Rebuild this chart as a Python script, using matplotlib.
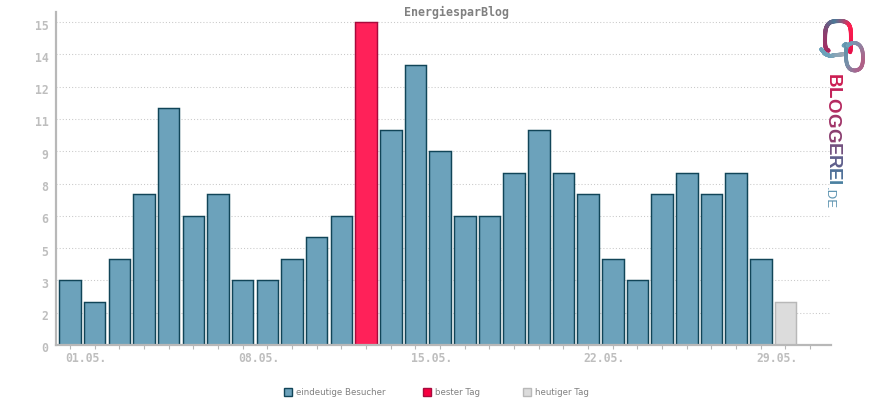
import numpy as np
import matplotlib
matplotlib.use("Agg")
import matplotlib.pyplot as plt
from matplotlib.patches import Patch
from matplotlib.collections import LineCollection
from matplotlib.colors import to_rgb
from matplotlib.transforms import ScaledTranslation

# ---------- data ----------
visitors = [3, 2, 4, 7, 11, 6, 7, 3, 3, 4, 5, 6, 15, 10, 13, 9, 6, 6, 8, 10, 8, 7, 4, 3, 7, 8, 7, 8, 4, 2]
best_day_index = 12
today_index = 29
slot_count = 31
y_ticks = [0, 1.5, 3, 4.5, 6, 7.5, 9, 10.5, 12, 13.5, 15]
y_tick_labels = ["0", "2", "3", "5", "6", "8", "9", "11", "12", "14", "15"]
x_label_index = [0, 7, 14, 21, 28]
x_label_text = ["01.05.", "08.05.", "15.05.", "22.05.", "29.05."]
title = "EnergiesparBlog"
legend_labels = ["eindeutige Besucher", "bester Tag", "heutiger Tag"]

# ---------- style ----------
W, H = 870, 400
BLUE, BLUE_E = "#6ca2bb", "#114558"
RED, RED_E, RED_L = "#ff2159", "#a80a3c", "#f70040"
GREY, GREY_E = "#dcdcdc", "#b8b8b8"
AX = "#b8b8b8"
TICK = "#bebebe"
MONO = "DejaVu Sans Mono"

fig = plt.figure(figsize=(W / 100, H / 100), dpi=100)
L, R, T, B = 56, 831, 12, 345
ax = fig.add_axes([L / W, 1 - B / H, (R - L) / W, (B - T) / H])
px_x = 24.67
ax.set_xlim(-(70 - L) / px_x, (R - 70) / px_x)
ax.set_ylim(0, (B - T) / 21.53)

idx = np.arange(len(visitors))
vals = np.array(visitors)
normal = (idx != best_day_index) & (idx != today_index)
bw = 0.875
elw = 1.05
ax.bar(idx[normal], vals[normal], width=bw, color=BLUE, edgecolor=BLUE_E, linewidth=elw, zorder=2)
ax.bar(idx[best_day_index], vals[best_day_index], width=bw, color=RED, edgecolor=RED_E, linewidth=elw, zorder=2)
ax.bar(idx[today_index], vals[today_index], width=bw, color=GREY, edgecolor=GREY_E, linewidth=elw, zorder=2)

for s in ("top", "right"):
    ax.spines[s].set_visible(False)
for s in ("left", "bottom"):
    ax.spines[s].set_color(AX)
    ax.spines[s].set_linewidth(1.6)
    ax.spines[s].set_zorder(3)

ax.set_axisbelow(True)
ax.yaxis.grid(True, color="#c9c9c9", linewidth=0.75, linestyle=(0, (1, 2)))
ax.set_yticks(y_ticks)
ax.set_yticklabels(y_tick_labels, family=MONO, fontweight="bold", fontsize=8.3, color=TICK)
ax.tick_params(axis="y", length=0, pad=5.5)
off_y = ScaledTranslation(0, -2.5 / 100, fig.dpi_scale_trans)
for t in ax.get_yticklabels():
    t.set_transform(t.get_transform() + off_y)

ax.set_xticks(np.arange(slot_count))
labels = [""] * slot_count
for i, s in zip(x_label_index, x_label_text):
    labels[i] = s
ax.set_xticklabels(labels, family=MONO, fontweight="bold", fontsize=8.3, color=TICK)
ax.tick_params(axis="x", length=3, width=0.8, color=AX, pad=2.2)
off_x = ScaledTranslation(16 / 100, 0, fig.dpi_scale_trans)
for t in ax.get_xticklabels():
    t.set_transform(t.get_transform() + off_x)

fig.text(457 / W, 1 - 12 / H, title, family=MONO, fontweight="bold", fontsize=8.4,
         color="#808080", ha="center", va="center")

handles = [Patch(facecolor=BLUE, edgecolor=BLUE_E, linewidth=1),
           Patch(facecolor=RED_L, edgecolor=RED_E, linewidth=1),
           Patch(facecolor=GREY, edgecolor=GREY_E, linewidth=1)]
for h, lab, px in zip(handles, legend_labels, [284, 423, 523]):
    fig.legend([h], [lab], loc="lower left", bbox_to_anchor=(px / W, 1 - 397 / H),
               frameon=False, fontsize=6.2, labelcolor="#808080", borderpad=0, borderaxespad=0,
               handlelength=0.95, handleheight=0.95, handletextpad=0.45)

# ---------- logo overlay in pixel coordinates ----------
ov = fig.add_axes([0, 0, 1, 1], facecolor="none")
ov.set_xlim(0, W)
ov.set_ylim(H, 0)
ov.axis("off")

def blend(c1, c2, t):
    a, b = np.array(to_rgb(c1)), np.array(to_rgb(c2))
    return tuple(a + (b - a) * t)

def ramp(stops, n):
    t = np.linspace(0, len(stops) - 1, n)
    out = []
    for v in t:
        i = min(int(v), len(stops) - 2)
        out.append(blend(stops[i], stops[i + 1], v - i))
    return out

def stroke(xs, ys, stops, lw):
    k = np.linspace(0, 1, len(xs))
    tt = np.linspace(0, 1, 160)
    x = np.interp(tt, k, xs)
    y = np.interp(tt, k, ys)
    ker = np.ones(15) / 15
    x2 = np.convolve(np.pad(x, 7, mode="edge"), ker, mode="valid")
    y2 = np.convolve(np.pad(y, 7, mode="edge"), ker, mode="valid")
    pts = np.column_stack([x2, y2])
    segs = np.stack([pts[:-1], pts[1:]], axis=1)
    ov.add_collection(LineCollection(segs, colors=ramp(stops, len(segs)), linewidths=lw, capstyle="round"))

# first bubble
stroke([829, 825, 825, 826, 830, 836, 844, 849, 851, 851, 850],
       [51, 48, 34, 27, 22, 21, 21, 24, 30, 46, 53],
       ["#b0245c", "#8a4070", "#4c7a98", "#ff1f50", "#e8104a"], 2.9)
stroke([821, 825, 830, 836, 846], [49, 54, 56, 55, 54],
       ["#6ca2bb", "#6ca2bb", "#a0a8b4"], 2.7)
# second bubble
stroke([843, 847, 846, 846, 849, 855, 860, 863, 863, 858, 851, 847],
       [46, 43, 50, 62, 69, 71, 69, 64, 50, 43, 43, 46],
       ["#6ca2bb", "#5f90a8", "#7a8fa8", "#a96690", "#b06085", "#8a8aa8", "#6ca2bb"], 2.7)

# wordmark, one real text per letter so the colour can run down the word
letters = list("BLOGGEREI")
starts = [74, 87, 98, 113, 128, 143, 155, 168, 180]
colors = ["#cc1d52", "#c3225a", "#b52a60", "#a03468", "#8a3f70", "#72507f", "#5f5f8c", "#4f7098", "#4a80a0"]
for ch, y, c in zip(letters, starts, colors):
    ov.text(832, y, ch, rotation=-90, ha="center", va="top", family="Liberation Sans",
            fontweight="bold", fontsize=13.5, color=c)
ov.text(829, 187, ".DE", rotation=-90, ha="center", va="top", family="Liberation Sans",
        fontsize=9.5, color="#5c93b0")

fig.savefig("out.png", dpi=100, facecolor="white")
